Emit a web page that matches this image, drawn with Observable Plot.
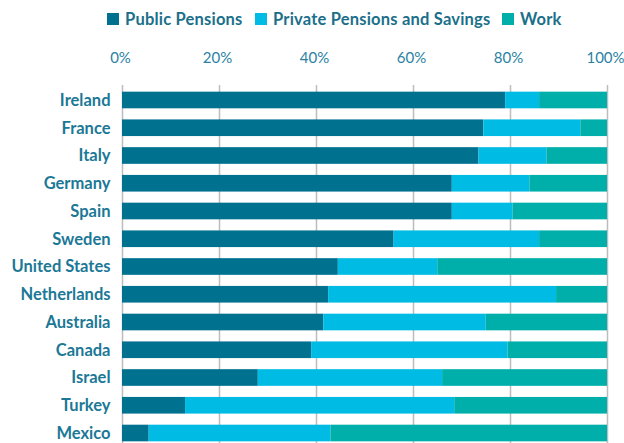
<!DOCTYPE html>
<html><head><meta charset="utf-8">
<script src="https://cdn.jsdelivr.net/npm/d3@7"></script>
<script src="https://cdn.jsdelivr.net/npm/@observablehq/plot@0.6"></script>
<style>
body{margin:0;background:#fff;font-family:Lato,"Open Sans",sans-serif;overflow:hidden;}
#legend{position:relative;height:38px;width:624px;}
.item{position:absolute;top:10px;display:flex;align-items:center;font-weight:700;font-size:16.5px;letter-spacing:0.2px;color:#1b6f8a;line-height:18px;white-space:nowrap;}
.sw{width:12px;height:12px;margin-right:6px;}
</style></head><body>
<div id="legend"></div><div id="chart"></div>
<script>
const countries = ["Ireland","France","Italy","Germany","Spain","Sweden","United States","Netherlands","Australia","Canada","Israel","Turkey","Mexico"];
const publicPensions = [79, 74.5, 73.5, 68, 68, 56, 44.5, 42.5, 41.5, 39, 28, 13, 5.5];
const privatePensions = [7, 20, 14, 16, 12.5, 30, 20.5, 47, 33.5, 40.5, 38, 55.5, 37.5];
const work = [14, 5.5, 12.5, 16, 19.5, 14, 35, 10.5, 25, 20.5, 34, 31.5, 57];
const sources = ["Public Pensions","Private Pensions and Savings","Work"];
const colors = ["#00718f","#00bbe3","#00afaa"];
const xTicks = [0,20,40,60,80,100];
const legendX = [107, 255, 502];

const series = [publicPensions, privatePensions, work];
const data = [];
countries.forEach((c, i) => {
  sources.forEach((s, j) => data.push({country: c, source: s, value: series[j][i]}));
});

const legend = document.getElementById("legend");
sources.forEach((s, j) => {
  const it = document.createElement("div");
  it.className = "item";
  it.style.left = legendX[j] + "px";
  it.innerHTML = `<span class="sw" style="background:${colors[j]}"></span>${s}`;
  legend.appendChild(it);
});

const chart = Plot.plot({
  width: 624,
  height: 410,
  marginLeft: 122,
  marginRight: 17,
  marginTop: 47,
  marginBottom: 0,
  style: {fontFamily: "Lato, 'Open Sans', sans-serif", background: "#fff"},
  x: {domain: [0, 100]},
  y: {domain: countries, paddingInner: 0.4, paddingOuter: 0.24, round: false},
  color: {domain: sources, range: colors},
  marks: [
    Plot.ruleX(xTicks, {stroke: "#bdbdbd", strokeWidth: 1.5}),
    Plot.barX(data, {x: "value", y: "country", fill: "source"}),
    Plot.axisX(xTicks, {anchor: "top", tickSize: 0, tickPadding: 23, dx: -2, tickFormat: d => d + "%", fontSize: 15, color: "#2a82a2", label: null}),
    Plot.axisY({tickSize: 0, tickPadding: 12, fontSize: 16.5, fontWeight: 700, color: "#1b7896", label: null, style: {letterSpacing: "0.5px"}})
  ]
});
document.getElementById("chart").appendChild(chart);
</script>
</body></html>
